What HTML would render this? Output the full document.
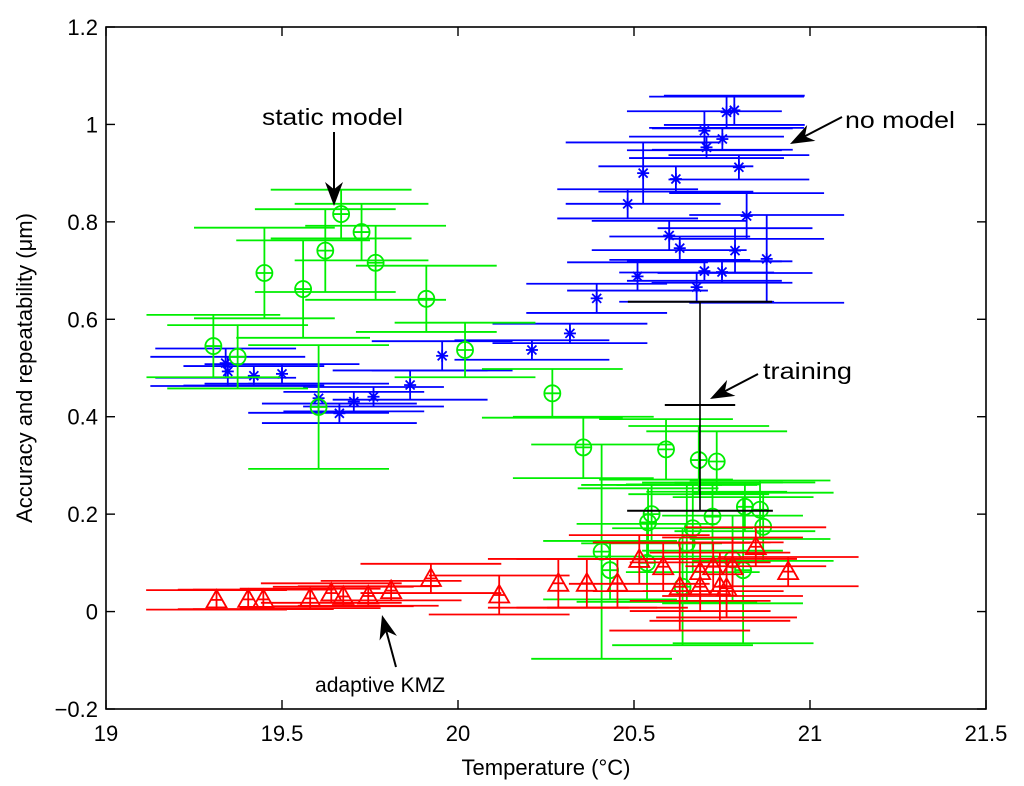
<!DOCTYPE html>
<html><head><meta charset="utf-8"><style>
html,body{margin:0;padding:0;background:#fff}
svg{display:block}
text{font-family:"Liberation Sans",Arial,sans-serif;fill:#000}
</style></head><body>
<svg id="chart" width="1024" height="786" viewBox="0 0 1024 786">
<rect width="1024" height="786" fill="#fff"/>
<g id="series"></g>
<g id="axes"></g>
<g id="annot"></g>
</svg>
<script>
// ---- data ----
const blueX  = [20.763,20.785,20.70,20.751,20.706,20.526,20.798,20.619,20.482,20.82,20.60,20.63,20.787,20.877,20.51,20.70,20.75,20.678,20.394,20.318,19.34,19.346,19.42,19.50,19.604,19.663,19.704,19.76,19.864,19.955,20.21];
const blueY  = [1.025,1.029,0.987,0.970,0.953,0.900,0.912,0.888,0.837,0.812,0.772,0.746,0.741,0.724,0.688,0.699,0.697,0.666,0.643,0.571,0.51,0.493,0.484,0.488,0.438,0.407,0.431,0.441,0.465,0.525,0.537];
const blueEy = [0.032,0.03,0.04,0.022,0.022,0.063,0.025,0.026,0.03,0.047,0.03,0.024,0.046,0.09,0.029,0.02,0.022,0.03,0.03,0.02,0.03,0.03,0.02,0.02,0.03,0.02,0.02,0.02,0.03,0.03,0.02];
const blueEx = [0.22,0.2,0.22,0.2,0.22,0.22,0.2,0.22,0.2,0.22,0.22,0.2,0.22,0.22,0.2,0.22,0.2,0.22,0.2,0.22,0.2,0.22,0.2,0.22,0.2,0.22,0.2,0.2,0.22,0.2,0.22];

const greenX  = [19.305,19.374,19.45,19.56,19.623,19.668,19.726,19.766,19.91,20.02,19.604,20.268,20.356,20.591,20.684,20.735,20.55,20.54,20.667,20.723,20.815,20.858,20.867,20.408,20.432,20.65,20.78,20.81,20.638,20.537];
const greenY  = [0.545,0.523,0.695,0.662,0.741,0.816,0.779,0.716,0.642,0.537,0.42,0.448,0.337,0.333,0.311,0.308,0.2,0.183,0.171,0.195,0.215,0.209,0.174,0.123,0.085,0.14,0.107,0.085,0.051,0.1];
const greenEy = [0.064,0.065,0.093,0.1,0.085,0.05,0.058,0.076,0.068,0.056,0.127,0.05,0.063,0.062,0.07,0.062,0.06,0.07,0.09,0.07,0.05,0.06,0.07,0.22,0.06,0.12,0.09,0.15,0.12,0.08];
const greenEx = [0.19,0.2,0.2,0.19,0.2,0.2,0.19,0.2,0.2,0.2,0.2,0.2,0.2,0.19,0.2,0.2,0.2,0.2,0.19,0.2,0.2,0.2,0.2,0.2,0.19,0.2,0.2,0.2,0.2,0.2];

const redX  = [19.314,19.404,19.447,19.58,19.64,19.674,19.745,19.81,19.923,20.117,20.285,20.366,20.453,20.515,20.583,20.688,20.725,20.78,20.846,20.938,20.63,20.688,20.744,20.763];
const redY  = [0.024,0.025,0.025,0.027,0.038,0.031,0.032,0.043,0.068,0.034,0.058,0.058,0.058,0.107,0.092,0.082,0.092,0.092,0.133,0.082,0.051,0.051,0.051,0.048];
const redEy = [0.02,0.02,0.02,0.02,0.02,0.02,0.02,0.02,0.03,0.04,0.05,0.05,0.05,0.05,0.05,0.06,0.05,0.06,0.04,0.03,0.09,0.05,0.07,0.06];
const redEx = [0.2,0.2,0.2,0.2,0.2,0.2,0.2,0.2,0.2,0.2,0.2,0.2,0.2,0.2,0.2,0.2,0.2,0.2,0.2,0.2,0.2,0.2,0.2,0.2];

const trainX = 20.6875;
const trainLevels = [0.636, 0.424, 0.207];
const trainHalfW  = [0.205, 0.1, 0.207];

const xTicks = [19,19.5,20,20.5,21,21.5];
const xTickLabels = ["19","19.5","20","20.5","21","21.5"];
const yTicks = [-0.2,0,0.2,0.4,0.6,0.8,1,1.2];
const yTickLabels = ["\u22120.2","0","0.2","0.4","0.6","0.8","1","1.2"];

// ---- scales ----
const L=106,R=986,T=27,B=709;
const xs = v => L + (v-19)/(21.5-19)*(R-L);
const ys = v => B - (v+0.2)/(1.4)*(B-T);
const NS="http://www.w3.org/2000/svg";
function mk(tag, parent, attrs){const e=document.createElementNS(NS,tag);for(const k in attrs)e.setAttribute(k,attrs[k]);parent.appendChild(e);return e;}
function line(g,x1,y1,x2,y2,c,w){return mk('line',g,{x1,y1,x2,y2,stroke:c,'stroke-width':w});}

const SW=1.8;
const sg=document.getElementById('series');
function drawSeries(X,Y,EY,EX,color,marker,name){
  const g=mk('g',sg,{});
  
  
  for(let i=0;i<X.length;i++){
    const p=mk('g',g,{});
    
    
    const cx=xs(X[i]), cy=ys(Y[i]), y1=ys(Y[i]+EY[i]), y2=ys(Y[i]-EY[i]);
    const xa=xs(X[i]-EX[i]), xb=xs(X[i]+EX[i]);
    line(p,cx,y1,cx,y2,color,SW);
    line(p,xa,y1,xb,y1,color,SW);
    line(p,xa,y2,xb,y2,color,SW);
    if(marker==='star'){
      const s=6;
      line(p,cx-s,cy,cx+s,cy,color,SW);
      line(p,cx,cy-s,cx,cy+s,color,SW);
      line(p,cx-s*0.75,cy-s*0.75,cx+s*0.75,cy+s*0.75,color,SW);
      line(p,cx-s*0.75,cy+s*0.75,cx+s*0.75,cy-s*0.75,color,SW);
    } else if(marker==='circle'){
      mk('circle',p,{cx,cy,r:8,fill:'none',stroke:color,'stroke-width':SW});
      line(p,cx-8,cy,cx+8,cy,color,SW);
    } else {
      const s=10;
      mk('polygon',p,{points:`${cx},${cy-s} ${cx+s},${cy+s*0.75} ${cx-s},${cy+s*0.75}`,fill:'none',stroke:color,'stroke-width':SW});
      line(p,cx-s*0.6,cy,cx+s*0.6,cy,color,SW);
    }
  }
}
drawSeries(blueX,blueY,blueEy,blueEx,'#0000ff','star','no-model');
drawSeries(greenX,greenY,greenEy,greenEx,'#00ee00','circle','static-model');
drawSeries(redX,redY,redEy,redEx,'#ff0000','tri','adaptive-kmz');

// training bar
const tg=mk('g',sg,{});


line(tg,xs(trainX),ys(trainLevels[0]),xs(trainX),ys(trainLevels[2]),'#000',1.6);
for(let i=0;i<trainLevels.length;i++){
  line(tg,xs(trainX-trainHalfW[i]),ys(trainLevels[i]),xs(trainX+trainHalfW[i]),ys(trainLevels[i]),'#000',2);
}

// axes
const ag=document.getElementById('axes');
const frame=mk('rect',ag,{x:L,y:T,width:R-L,height:B-T,fill:'none',stroke:'#000','stroke-width':1.6});


for(let i=0;i<xTicks.length;i++){
  const x=xs(xTicks[i]);
  line(ag,x,B,x,B-9,'#000',1.4);line(ag,x,T,x,T+9,'#000',1.4);
  const t=mk('text',ag,{x,y:B+32,'text-anchor':'middle','font-size':22});
  t.textContent=xTickLabels[i];
  
  
}
for(let i=0;i<yTicks.length;i++){
  const y=ys(yTicks[i]);
  line(ag,L,y,L+9,y,'#000',1.4);line(ag,R,y,R-9,y,'#000',1.4);
  const t=mk('text',ag,{x:98,y:y+8,'text-anchor':'end','font-size':22});
  t.textContent=yTickLabels[i];
  
  
}
const xt=mk('text',ag,{x:546,y:775,'text-anchor':'middle','font-size':22});
xt.textContent='Temperature (\u00B0C)';


const yt=mk('text',ag,{x:0,y:0,'text-anchor':'middle','font-size':22,transform:'translate(32,368) rotate(-90)'});
yt.textContent='Accuracy and repeatability (\u03BCm)';



// annotations
const ng=document.getElementById('annot');
function arrow(x1,y1,x2,y2,name){
  const g=mk('g',ng,{});
  
  
  const dx=x2-x1,dy=y2-y1,len=Math.hypot(dx,dy),ux=dx/len,uy=dy/len,px=-uy,py=ux;
  const hl=24,hw=9;
  const bx=x2-ux*hl,by=y2-uy*hl, nx=x2-ux*hl*0.7, ny=y2-uy*hl*0.7;
  line(g,x1,y1,nx,ny,'#000',2);
  mk('polygon',g,{points:`${x2},${y2} ${bx+px*hw},${by+py*hw} ${nx},${ny} ${bx-px*hw},${by-py*hw}`,fill:'#000'});
}
function label(x,y,s,w,fs,name){
  const t=mk('text',ng,{x,y,'font-size':fs,textLength:w,lengthAdjust:'spacingAndGlyphs'});
  t.textContent=s;
  
  
}
label(262,125,'static model',141,23,'static-model-label');
arrow(334,132,334,206,'static-model-arrow');
label(845,128,'no model',110,23,'no-model-label');
arrow(842,117,790,144,'no-model-arrow');
label(763,379,'training',89,23,'training-label');
arrow(758,374,710,399,'training-arrow');
label(315,692,'adaptive KMZ',130,21,'adaptive-kmz-label');
arrow(396,667,382,615,'adaptive-kmz-arrow');
</script>
</body></html>
